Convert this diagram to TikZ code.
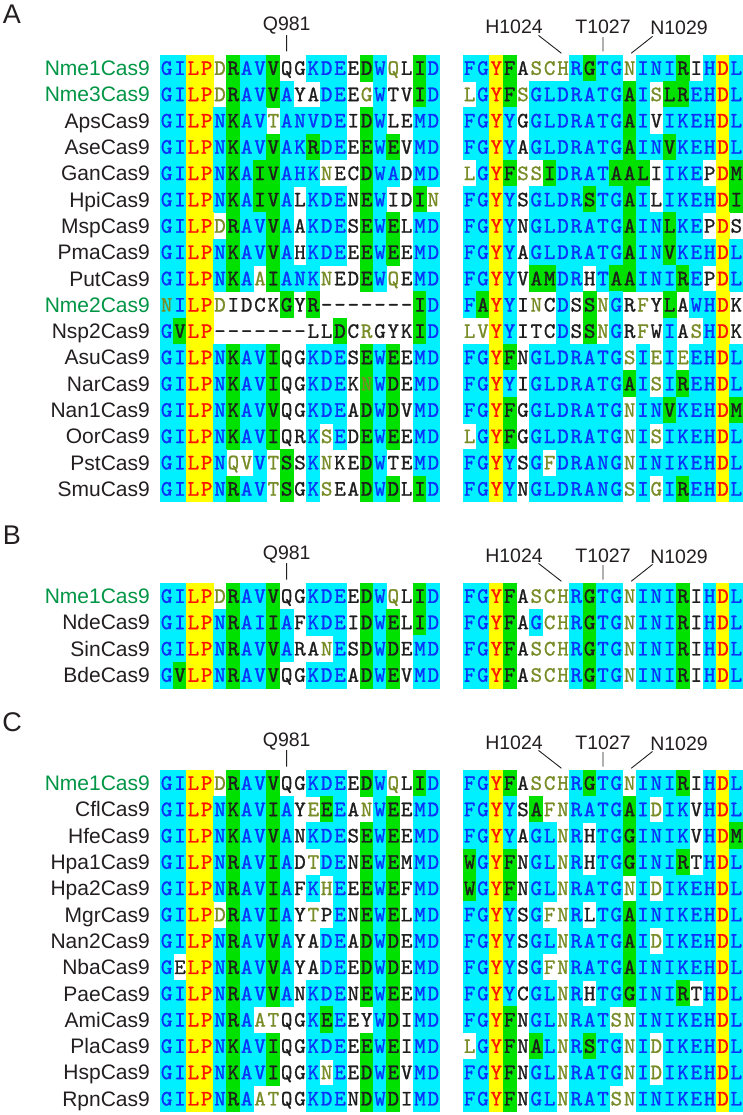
\documentclass[tikz,border=0pt]{standalone}
\usepackage{fontspec}
\setmainfont{Liberation Sans}
\newfontfamily\resfont{lmmono10-regular.otf}[FakeBold=1]
\definecolor{cyanbg}{RGB}{0,240,255}
\definecolor{yellowbg}{RGB}{255,255,0}
\definecolor{greenbg}{RGB}{0,225,0}
\definecolor{bluetxt}{RGB}{10,50,250}
\definecolor{redtxt}{RGB}{255,20,0}
\definecolor{blacktxt}{RGB}{30,30,30}
\definecolor{olivetxt}{RGB}{120,140,40}
\definecolor{nmegreen}{RGB}{0,150,70}
\definecolor{labtxt}{RGB}{35,31,32}
\tikzset{
  cell/.style={inner sep=0pt, minimum width=13.95pt, minimum height=26.9pt,
    text height=13.4pt, text depth=0pt, font=\resfont\fontsize{22}{22}\selectfont},
  cellb/.style={fill=cyanbg, text=bluetxt},
  celly/.style={fill=yellowbg, text=redtxt},
  cellg/.style={fill=greenbg, text=blacktxt},
  cellw/.style={text=blacktxt},
  cello/.style={text=olivetxt},
  cellp/.style={fill=cyanbg, text=olivetxt},
  celln/.style={fill=greenbg, text=olivetxt},
  namelab/.style={anchor=east, inner sep=0pt, font=\fontsize{21}{21}\selectfont,
    text height=15pt, text depth=0pt, text=labtxt},
  namegreen/.style={text=nmegreen},
  ticklab/.style={inner sep=0pt, font=\fontsize{19.5}{19.5}\selectfont,
    text height=14pt, text depth=0pt, text=labtxt},
  panellab/.style={inner sep=0pt, font=\fontsize{27}{27}\selectfont,
    text height=19.3pt, text depth=0pt, text=labtxt},
  tickline/.style={draw=labtxt, line width=0.9pt}
}
\newcount\cellidx
\def\alnCW{13.333}
\def\alnRH{26.3}
\newcommand\cellrow[5]{\def\alnP{#1}\def\alnX{#2}\def\alnY{#3}\cellidx=0 \cellloop#4\qstop#5\qstop}
\def\cellloop#1#2\qstop#3#4\qstop{%
  \edef\alnN{\alnP-\the\cellidx}%
  \node[cell,cell#3] (\alnN) at ({\alnX+(\the\cellidx+0.5)*\alnCW},{\alnY+0.5*\alnRH}) {#1};%
  \advance\cellidx by 1
  \ifx\relax#2\relax\else\cellloop#2\qstop#4\qstop\fi}
\newcommand\alnrow[8]{%
  \node[namelab,#4] (#1-name) at (150,{#2+0.5*\alnRH}) {#3};
  \cellrow{#1L}{160}{#2}{#5}{#6}%
  \cellrow{#1R}{463}{#2}{#7}{#8}}
\newcommand\panelhead[4]{%
  \node[panellab] (#1-letter) at (12,#4) {#3};
  \node[ticklab] (#1-q981) at (286.7,{#2-31}) {Q981};
  \node[ticklab] (#1-h1024) at (514,{#2-28}) {H1024};
  \node[ticklab] (#1-t1027) at (603,{#2-28}) {T1027};
  \node[ticklab] (#1-n1029) at (679,{#2-27}) {N1029};
  \draw[tickline, shorten <=4pt, shorten >=3pt] (#1-q981.south) -- (#11L-9.north);
  \draw[tickline, shorten <=2pt, shorten >=2pt] ([xshift=-6pt]#1-h1024.south east) -- (#11R-7.north);
  \draw[tickline, shorten <=3pt, shorten >=3pt] (#1-t1027.south) -- (#11R-10.north);
  \draw[tickline, shorten <=2pt, shorten >=2pt] ([xshift=4pt]#1-n1029.south west) -- (#11R-12.north);
}
\begin{document}
\begin{tikzpicture}[x=1pt,y=-1pt]
\fill[white] (0,0) rectangle (743,1115);
\useasboundingbox (0,0) rectangle (743,1115);
% Panel A
\alnrow{A1}{55}{Nme1Cas9}{namegreen}{GILPDRAVVQGKDEEDWQLID}{bbyyogbbgwwbbbwgbowgb}{FGYFASCHRGTGNINIRIHDL}{bbygwooobgbbobbbgwbyb}
\alnrow{A2}{81.3}{Nme3Cas9}{namegreen}{GILPDRAVVAYADEEGWTVID}{bbyyogbbgbwwbbwobwwgb}{LGYFSGLDRATGAISLREHDL}{obygobbbbbbbgboggbbyb}
\alnrow{A3}{107.6}{ApsCas9}{}{GILPNKAVTANVDEIDWLEMD}{bbyybgbbobbbbbwgbwwbb}{FGYYGGLDRATGAIVIKEHDL}{bbybwbbbbbbbgbwbbbbyb}
\alnrow{A4}{133.9}{AseCas9}{}{GILPNKAVVAKRDEEEWEVMD}{bbyybgbbgbbgbbwgbgwbb}{FGYYAGLDRATGAINVKEHDL}{bbybwbbbbbbbgbbgbbbyb}
\alnrow{A5}{160.2}{GanCas9}{}{GILPNKAIVAHKNECDWADMD}{bbyybgbggbbbowwgbbwbb}{LGYFSSIDRATAALIIKEPDM}{obygoogbbbbgggwbbbwyg}
\alnrow{A6}{186.5}{HpiCas9}{}{GILPNKAIVALKDENEWIDIN}{bbyybgbggbwbbbwgbwwgo}{FGYYSGLDRSTGAILIKEHDI}{bbybwbbbbgbbgbwbbbbyg}
\alnrow{A7}{212.8}{MspCas9}{}{GILPDRAVVAAKDESEWELMD}{bbyyogbbgbwbbbwgbgwbb}{FGYYNGLDRATGAINLKEPDS}{bbybwbbbbbbbgbbgbbwyw}
\alnrow{A8}{239.1}{PmaCas9}{}{GILPNKAVVAHKDEEEWEEMD}{bbyybgbbgbwbbbwgbgwbb}{FGYYAGLDRATGAINVKEHDL}{bbybwbbbbbbbgbbgbbbyb}
\alnrow{A9}{265.4}{PutCas9}{}{GILPNKAAIANKNEDEWQEMD}{bbyybgbogbbbowwgbowbb}{FGYYVAMDRHTAAINIREPDL}{bbybwggbbwbggbbbgbwyb}
\alnrow{A10}{291.7}{Nme2Cas9}{namegreen}{NILPDIDCKGYR-------ID}{pbyyowwwwgwgwwwwwwwgb}{FAYYINCDSSNGRFYLAWHDK}{bgybwowbwgobwowgwbbyw}
\alnrow{A11}{318}{Nsp2Cas9}{}{GVLP-------LLDCRGYKID}{bgyywwwwwwwwwgwowwwgb}{LVYYITCDSSNGRFWIASHDK}{ooybwwwbwgobwowbwobyw}
\alnrow{A12}{344.3}{AsuCas9}{}{GILPNKAVIQGKDESEWEEMD}{bbyybgbbgwwbbbwgbgwbb}{FGYFNGLDRATGSIEIEEHDL}{bbygwbbbbbbbobobobbyb}
\alnrow{A13}{370.6}{NarCas9}{}{GILPNKAVIQGKDEKNWDEMD}{bbyybgbbgwwbbbwnbgwbb}{FGYYIGLDRATGAISIREHDL}{bbybwbbbbbbbgbobgbbyb}
\alnrow{A14}{396.9}{Nan1Cas9}{}{GILPNKAVVQGKDEADWDVMD}{bbyybgbbgwwbbbwgbgwbb}{FGYFGGLDRATGNINVKEHDM}{bbygwbbbbbbbobbgbbbyg}
\alnrow{A15}{423.2}{OorCas9}{}{GILPNKAVIQRKSEDEWEEMD}{bbyybgbbgwwbobwgbgwbb}{LGYFGGLDRATGNISIKEHDL}{obygwbbbbbbbobobbbbyb}
\alnrow{A16}{449.5}{PstCas9}{}{GILPNQVVTSSKNKEDWTEMD}{bbyyboobogwbowwgbwwbb}{FGYYSGFDRANGNINIKEHDL}{bbybwbobbbbbobbbbbbyb}
\alnrow{A17}{475.8}{SmuCas9}{}{GILPNRAVTSGKSEADWDLID}{bbyybgbbogwbowwgbgwgb}{FGYYNGLDRANGSIGIREHDL}{bbybwbbbbbbbobobgbbyb}
\panelhead{A}{55}{A}{14}
% Panel B
\alnrow{B1}{583}{Nme1Cas9}{namegreen}{GILPDRAVVQGKDEEDWQLID}{bbyyogbbgwwbbbwgbowgb}{FGYFASCHRGTGNINIRIHDL}{bbygwooobgbbobbbgwbyb}
\alnrow{B2}{609.3}{NdeCas9}{}{GILPNRAIIAFKDEIDWELID}{bbyybgbbgbwbbbwgbgwgb}{FGYFAGCHRGTGNINIRIHDL}{bbygwboobgbbobbbgwbyb}
\alnrow{B3}{635.6}{SinCas9}{}{GILPNRAVVARANESDWDEMD}{bbyybgbbgbwwobwgbgwbb}{FGYFASCHRGTGNINIRIHDL}{bbygwooobgbbobbbgwbyb}
\alnrow{B4}{661.9}{BdeCas9}{}{GVLPNRAVVQGKDEADWEVMD}{bgyybgbbgwwbbbwgbgwbb}{FGYFASCHRGTGNINIRIHDL}{bbygwooobgbbobbbgwbyb}
\panelhead{B}{583}{B}{535}
% Panel C
\alnrow{C1}{770}{Nme1Cas9}{namegreen}{GILPDRAVVQGKDEEDWQLID}{bbyyogbbgwwbbbwgbowgb}{FGYFASCHRGTGNINIRIHDL}{bbygwooobgbbobbbgwbyb}
\alnrow{C2}{796.3}{CflCas9}{}{GILPNKAVIAYEEEANWEEMD}{bbyybgbbgbwogbwobgwbb}{FGYYSAFNRATGAIDIKVHDL}{bbybwgoobbbbgbobbwbyb}
\alnrow{C3}{822.6}{HfeCas9}{}{GILPNKAVVANKDESEWEEMD}{bbyybgbbgbwbbbwgbgwbb}{FGYYAGLNRHTGGINIKVHDM}{bbybwbbobwbbgbbbbwbyg}
\alnrow{C4}{848.9}{Hpa1Cas9}{}{GILPNRAVIADTDENEWEMMD}{bbyybgbbgbwobbwgbgwbb}{WGYFNGLNRHTGGINIRTHDL}{gbygwbbobwbbgbbbgwbyb}
\alnrow{C5}{875.2}{Hpa2Cas9}{}{GILPNRAVIAFKHEEEWEFMD}{bbyybgbbgbwbobwgbgwbb}{WGYFNGLNRATGNIDIKEHDL}{gbygwbbobbbbobobbbbyb}
\alnrow{C6}{901.5}{MgrCas9}{}{GILPDRAVIAYTPENEWELMD}{bbyyogbbgbwowbwgbgwbb}{FGYYSGFNRLTGAINIKEHDL}{bbybwboobwbbgbbbbbbyb}
\alnrow{C7}{927.8}{Nan2Cas9}{}{GILPNRAVVAYADEADWDEMD}{bbyybgbbgbwwbbwgbgwbb}{FGYYSGLNRATGAIDIKEHDL}{bbybwbbobbbbgbobbbbyb}
\alnrow{C8}{954.1}{NbaCas9}{}{GELPNRAVVAYADEEDWDEMD}{bwyybgbbgbwwbbwgbgwbb}{FGYYSGFNRATGAINIKEHDL}{bbybwboobbbbgbbbbbbyb}
\alnrow{C9}{980.4}{PaeCas9}{}{GILPNRAVVANKDENEWEEMD}{bbyybgbbgbwbbbwgbgwbb}{FGYYCGLNRHTGGINIRTHDL}{bbybwbbobwbbgbbbgwbyb}
\alnrow{C10}{1006.7}{AmiCas9}{}{GILPNRAATQGKEEEYWDIMD}{bbyybgboowwbgbwwbgwbb}{FGYFNGLNRATSNINIKEHDL}{bbygwbbobbboobbbbbbyb}
\alnrow{C11}{1033}{PlaCas9}{}{GILPNKAVIQGKDEEEWEIMD}{bbyybgbbgwwbbbwgbgwbb}{LGYFNALNRSTGNIDIKEHDL}{obygwgbobgbbobobbbbyb}
\alnrow{C12}{1059.3}{HspCas9}{}{GILPNKAVIQGKNEEDWEVMD}{bbyybgbbgwwbobwgbgwbb}{FGYFNGLNRATGNIDIKEHDL}{bbygwbbobbbbobobbbbyb}
\alnrow{C13}{1085.6}{RpnCas9}{}{GILPNRAATQGKDENDWDIMD}{bbyybgboowwbbbwgbgwbb}{FGYFNGLNRATSNINIKEHDL}{bbygwbbobbboobbbbbbyb}
\panelhead{C}{770}{C}{722}
\end{tikzpicture}
\end{document}
